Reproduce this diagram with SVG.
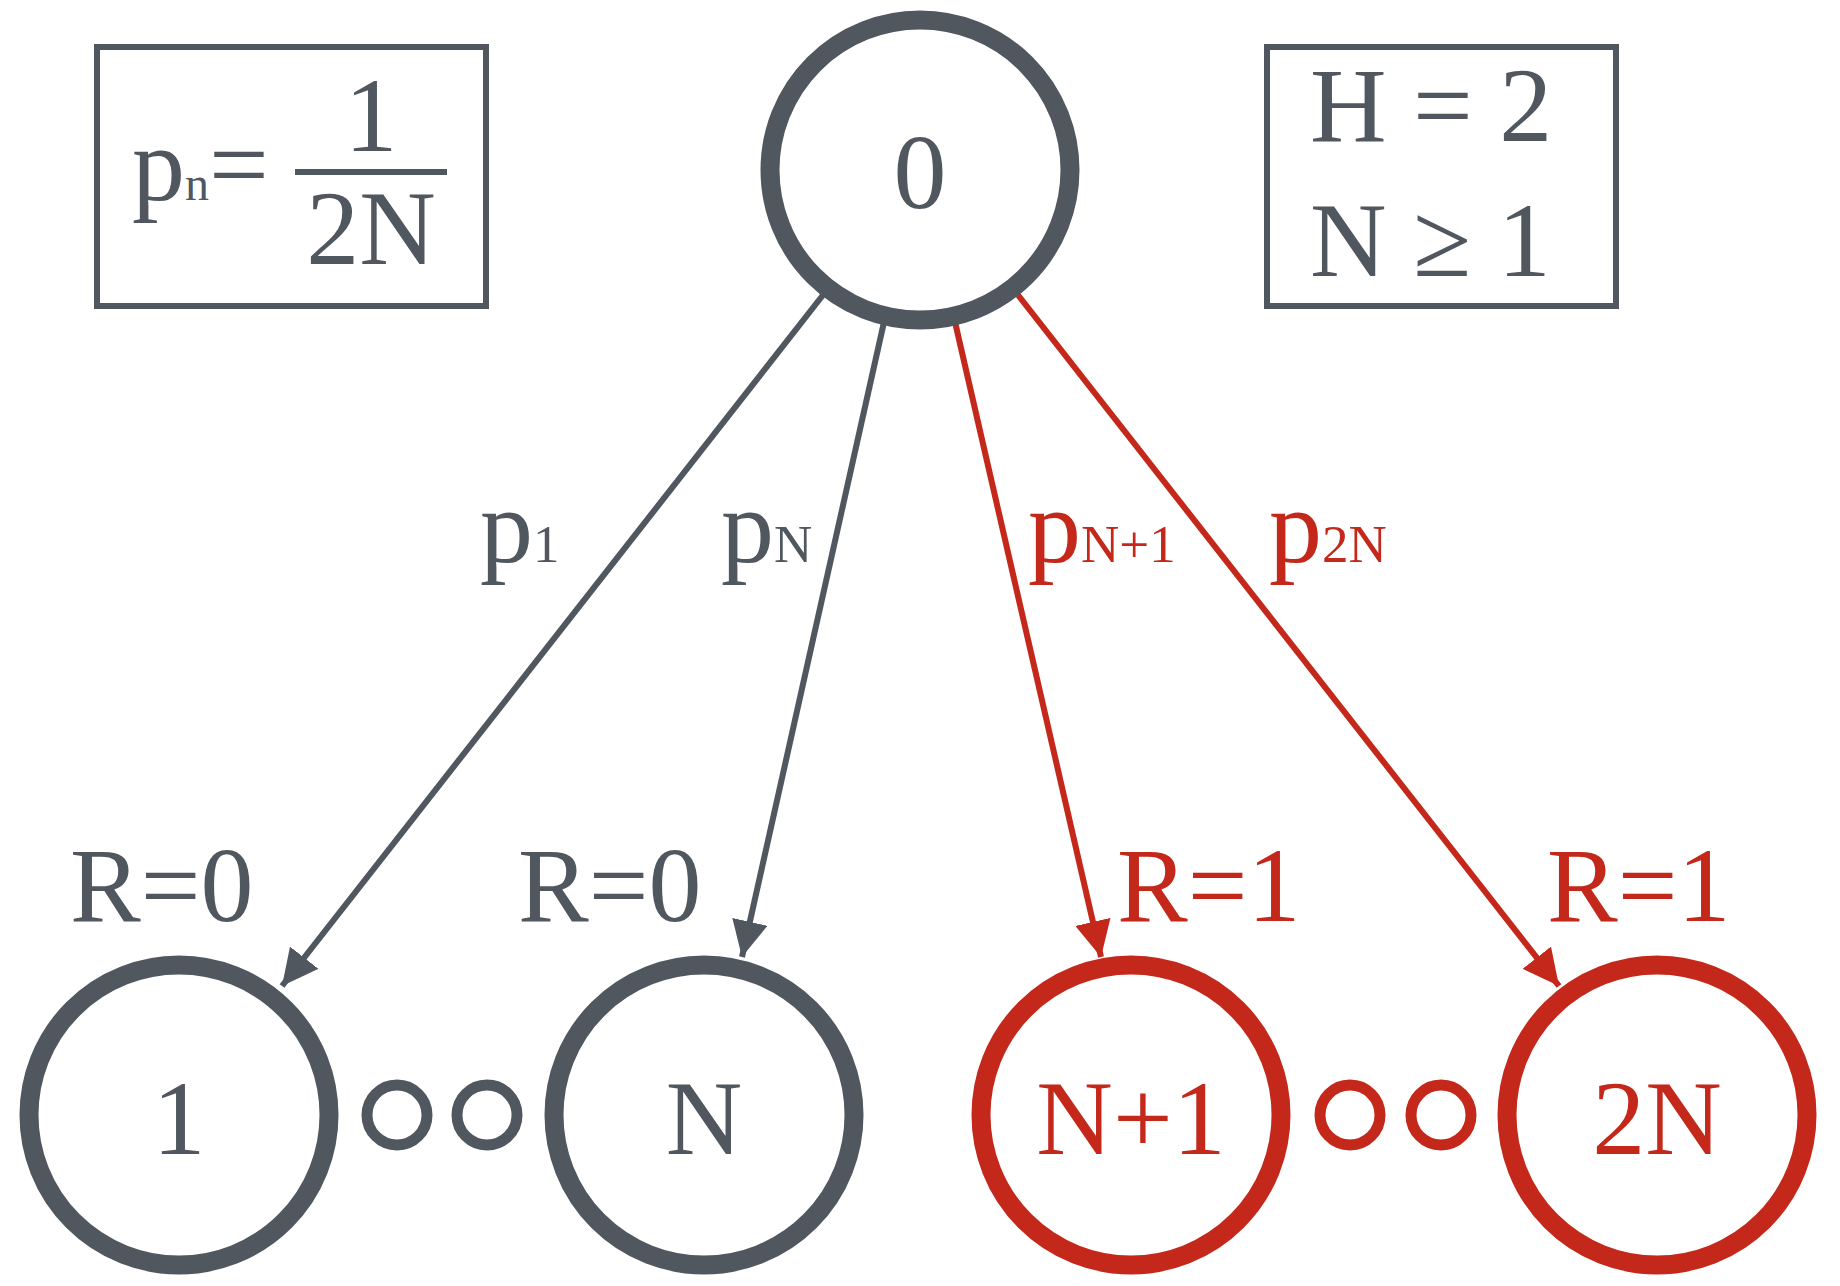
<svg xmlns="http://www.w3.org/2000/svg" width="1840" height="1286" viewBox="0 0 1840 1286">
<style>
text{font-family:"Liberation Serif","Times New Roman",serif;}
.g{fill:#50575f}.r{fill:#c4281a}
.ng{fill:#fff;stroke:#50575f;stroke-width:19}
.nr{fill:#fff;stroke:#c4281a;stroke-width:19}
.dg{fill:#fff;stroke:#50575f;stroke-width:11}
.dr{fill:#fff;stroke:#c4281a;stroke-width:11}
.eg{stroke:#50575f;stroke-width:6;fill:none}
.er{stroke:#c4281a;stroke-width:6;fill:none}
.box{fill:none;stroke:#50575f;stroke-width:6}
.big{font-size:106px}
</style>
<defs>
<marker id="ag" viewBox="0 0 10 10" refX="10" refY="5" markerWidth="6" markerHeight="6" markerUnits="strokeWidth" orient="auto"><path d="M0,0L10,5L0,10z" fill="#50575f"/></marker>
<marker id="ar" viewBox="0 0 10 10" refX="10" refY="5" markerWidth="6" markerHeight="6" markerUnits="strokeWidth" orient="auto"><path d="M0,0L10,5L0,10z" fill="#c4281a"/></marker>
</defs>
<g id="legend-left">
<rect class="box" x="97" y="47" width="389" height="259"/>
<text class="g big" x="132" y="200">p<tspan font-size="48">n</tspan>=</text>
<rect x="295" y="169" width="152" height="6" fill="#50575f"/>
<text class="g big" x="371" y="151" text-anchor="middle">1</text>
<text class="g big" x="371" y="264" text-anchor="middle">2N</text>
</g>
<g id="legend-right">
<rect class="box" x="1267" y="47" width="349" height="259"/>
<text class="g big" x="1310" y="141">H = 2</text>
<text class="g big" x="1310" y="276">N ≥ 1</text>
</g>
<g id="connectors">
<line class="eg" x1="823" y1="295" x2="282" y2="986" marker-end="url(#ag)"/>
<line class="eg" x1="884" y1="322" x2="742" y2="957" marker-end="url(#ag)"/>
<line class="er" x1="955" y1="322" x2="1101" y2="957" marker-end="url(#ar)"/>
<line class="er" x1="1018" y1="295" x2="1559" y2="986" marker-end="url(#ar)"/>
<text class="g big" x="480" y="562">p<tspan font-size="53">1</tspan></text>
<text class="g big" x="721" y="562">p<tspan font-size="53">N</tspan></text>
<text class="r big" x="1028" y="562">p<tspan font-size="53">N+1</tspan></text>
<text class="r big" x="1269" y="562">p<tspan font-size="53">2N</tspan></text>
<text class="g big" x="70" y="921">R=0</text>
<text class="g big" x="518" y="921">R=0</text>
<text class="r big" x="1117" y="921">R=1</text>
<text class="r big" x="1547" y="921">R=1</text>
</g>
<g id="node-0"><circle class="ng" cx="920" cy="170" r="150"/><text class="g big" x="920" y="208" text-anchor="middle">0</text></g>
<g id="node-1"><circle class="ng" cx="179" cy="1115" r="150"/><text class="g big" x="179" y="1154" text-anchor="middle">1</text></g>
<g id="node-N"><circle class="ng" cx="704" cy="1115" r="150"/><text class="g big" x="704" y="1154" text-anchor="middle">N</text></g>
<g id="node-N1"><circle class="nr" cx="1131" cy="1115" r="150"/><text class="r big" x="1131" y="1154" text-anchor="middle">N+1</text></g>
<g id="node-2N"><circle class="nr" cx="1657" cy="1115" r="150"/><text class="r big" x="1657" y="1154" text-anchor="middle">2N</text></g>
<g id="dots-left"><circle class="dg" cx="397" cy="1115" r="30"/><circle class="dg" cx="487" cy="1115" r="30"/></g>
<g id="dots-right"><circle class="dr" cx="1350" cy="1115" r="30"/><circle class="dr" cx="1441" cy="1115" r="30"/></g>
</svg>
